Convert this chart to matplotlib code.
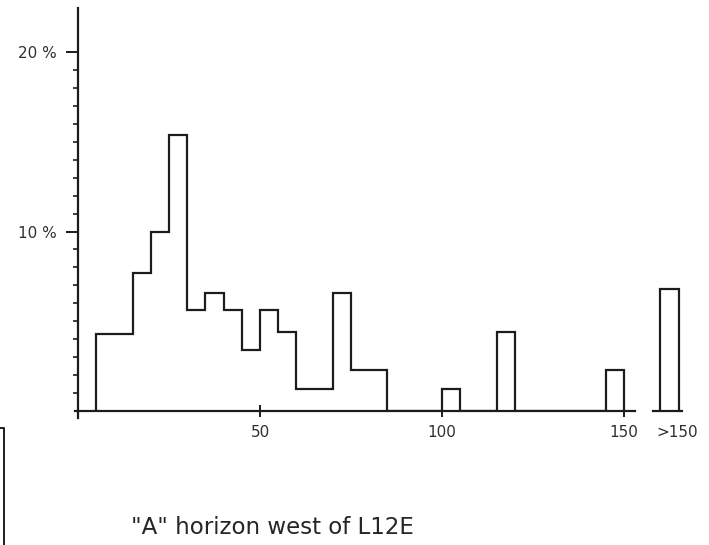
import numpy as np
import matplotlib.pyplot as plt
from matplotlib.lines import Line2D

# percent of samples in each 5-unit class, 5 to 150
bin_edges = np.arange(5, 155, 5)
percent = [4.3, 4.3, 7.7, 10.0, 15.4, 5.6, 6.6, 5.6, 3.4, 5.6,
           4.4, 1.2, 1.2, 6.6, 2.3, 2.3, 0, 0, 0, 1.2,
           0, 0, 4.4, 0, 0, 0, 0, 0, 2.3]
# open-ended class above 150, drawn apart from the main scale
over_label = '>150'
over_percent = 6.8
over_edges = [160, 165]

x_ticks = [50, 100, 150]
y_ticks = [10, 20]
y_labels = ['10 %', '20 %']
caption = '"A" horizon west of L12E'

ink = '#1c1c1c'
plt.rcParams['font.family'] = 'DejaVu Sans'

fig = plt.figure(figsize=(7.09, 5.45), dpi=100)
ax = fig.add_axes([78 / 709, 134 / 545, 631 / 709, 403 / 545])
ax.set_xlim(0, 631 / 3.64)
ax.set_ylim(0, 403 / 17.95)

ax.stairs(percent, bin_edges, baseline=0, color=ink, linewidth=1.6)
ax.stairs([over_percent], over_edges, baseline=0, color=ink, linewidth=1.6)
ax.plot([158, 166], [0, 0], color=ink, linewidth=1.6, clip_on=False)

for side in ['top', 'right']:
    ax.spines[side].set_visible(False)
ax.spines['left'].set_bounds(-0.4, 403 / 17.95)
ax.spines['bottom'].set_bounds(-0.8, 153)
for side in ['left', 'bottom']:
    ax.spines[side].set_color(ink)
    ax.spines[side].set_linewidth(1.6)

ax.set_xticks(x_ticks + [164.6])
ax.set_xticklabels([str(v) for v in x_ticks] + [over_label])
ax.xaxis.get_major_ticks()[-1].tick1line.set_visible(False)
ax.tick_params(axis='x', direction='inout', length=8, width=1.4,
               color=ink, labelcolor='#303030', labelsize=11, pad=6)

ax.set_yticks(y_ticks)
ax.set_yticklabels(y_labels)
ax.set_yticks(np.arange(1, 20), minor=True)
ax.tick_params(axis='y', which='major', direction='out', length=9,
               width=1.4, color=ink, labelcolor='#303030', labelsize=11, pad=6)
ax.tick_params(axis='y', which='minor', direction='out', length=3.5,
               width=1.2, color=ink)

fig.text(272 / 709, 1 - 528 / 545, caption, ha='center', va='center',
         fontsize=16.5, color='#262626')

# edge of the neighbouring figure on the sheet
fig.add_artist(Line2D([4 / 709, 4 / 709, 0], [0, 1 - 428 / 545, 1 - 428 / 545],
                      color=ink, linewidth=1.4))

fig.savefig('out.png', dpi=100, facecolor='white')
